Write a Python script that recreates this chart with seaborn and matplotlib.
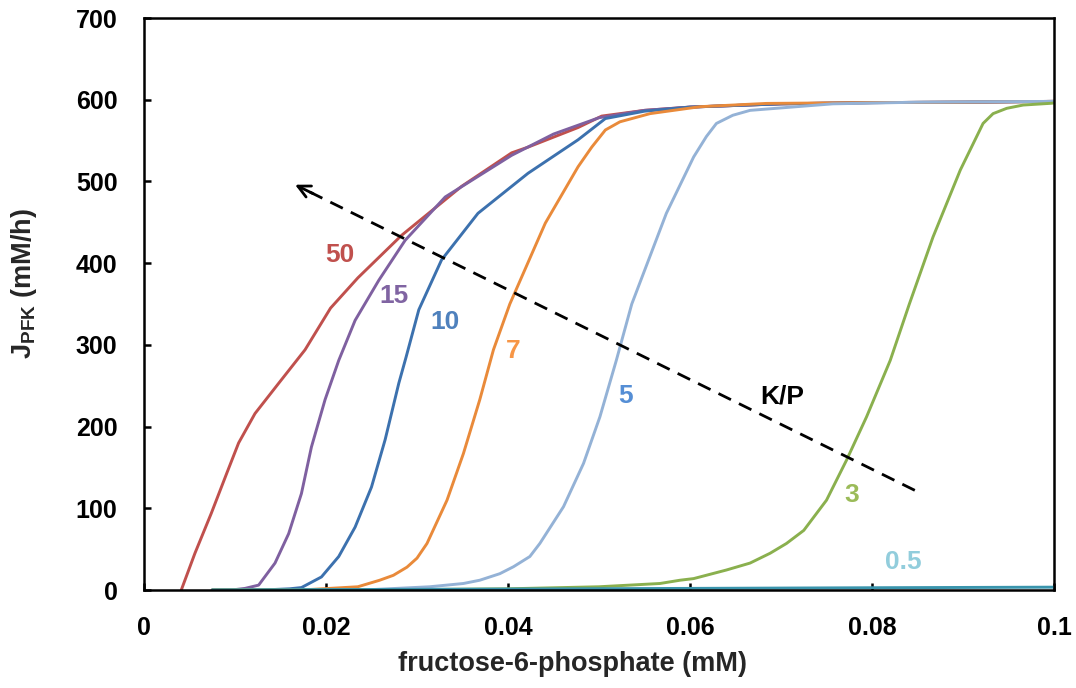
import numpy as np
import pandas as pd
import matplotlib
matplotlib.use("Agg")
import matplotlib.pyplot as plt
import seaborn as sns

# ---- data ----
x_50 = [0.0041, 0.0056, 0.0074, 0.0091, 0.0104, 0.0122, 0.0148, 0.0177, 0.0205, 0.0235,
        0.0283, 0.0349, 0.0404, 0.0422, 0.0477, 0.0503, 0.055, 0.06, 0.07, 0.08, 0.09, 0.1]
y_50 = [0, 45, 94, 143, 180, 216, 253, 294, 345, 382,
        434, 494, 535, 542, 566, 580, 587, 591, 595, 596.5, 597, 598]

x_15 = [0.0075, 0.0100, 0.0111, 0.0126, 0.0144, 0.0159, 0.0173, 0.0184, 0.0199, 0.0214,
        0.0232, 0.0258, 0.0287, 0.0331, 0.0404, 0.045, 0.05, 0.055, 0.06, 0.07, 0.08, 0.09, 0.1]
y_15 = [0, 0.5, 2, 6, 33, 69, 118, 175, 233, 281,
        330, 379, 428, 481, 532, 558, 578, 587, 591, 595, 596.5, 597, 598]

x_10 = [0.0075, 0.014, 0.0160, 0.0173, 0.0195, 0.0214, 0.0232, 0.0250, 0.0265, 0.0280,
        0.0288, 0.0302, 0.0327, 0.0367, 0.0422, 0.0477, 0.0507, 0.055, 0.06, 0.07, 0.08, 0.09, 0.1]
y_10 = [0, 0.5, 1.5, 3, 16, 41, 77, 126, 184, 253,
        285, 343, 404, 461, 510, 551, 577, 586, 591, 595, 596.5, 597, 598]

x_7 = [0.0075, 0.018, 0.0204, 0.0235, 0.0259, 0.0274, 0.0289, 0.0300, 0.0311, 0.0333,
       0.0351, 0.0369, 0.0384, 0.0402, 0.0441, 0.0477, 0.0492, 0.0507, 0.0523, 0.0556,
       0.0611, 0.0684, 0.08, 0.09, 0.1]
y_7 = [0, 0.5, 2, 4, 12, 18, 28, 39, 57, 110,
       167, 233, 294, 350, 449, 518, 542, 563, 573, 583,
       591.5, 595.5, 596.5, 597, 598]

x_5 = [0.0075, 0.025, 0.0314, 0.0351, 0.0369, 0.0391, 0.0406, 0.0424, 0.0435, 0.0461,
       0.0483, 0.0501, 0.0519, 0.0536, 0.0574, 0.0604, 0.0618, 0.0629, 0.0647, 0.0666,
       0.0757, 0.085, 0.1]
y_5 = [0, 0.5, 4, 8, 12, 20, 28.5, 41, 57, 102,
       155, 212, 281, 350, 461, 530, 555, 571, 581, 587,
       595, 597, 598]

x_3 = [0.0075, 0.03, 0.04, 0.05, 0.0567, 0.0589, 0.0604, 0.064, 0.0666, 0.0688,
       0.0706, 0.0725, 0.075, 0.0772, 0.0794, 0.082, 0.0841, 0.0867, 0.0897, 0.0922,
       0.0933, 0.0948, 0.0966, 0.0996, 0.1]
y_3 = [0, 0.5, 1.5, 4, 8, 12, 14, 24.5, 33, 45,
       57, 73, 110, 159, 212, 281, 350, 432, 514, 571,
       583, 589.5, 593.5, 595.6, 596]

x_05 = [0.0075, 0.02, 0.04, 0.06, 0.08, 0.1]
y_05 = [0, 0.5, 1.2, 2, 2.8, 3.5]

series_names = ["0.5", "50", "15", "10", "7", "5", "3"]
line_colors = ["#3A95AD", "#C0504D", "#7F60A0", "#3C71AE", "#E98A3A", "#94B2D6", "#8AB04E"]
label_colors = ["#92CDDC", "#C0504D", "#8064A2", "#4F81BD", "#F79646", "#558ED5", "#9BBB59"]
label_x = [0.0834, 0.0215, 0.0275, 0.0331, 0.0406, 0.0529, 0.0778]
label_y = [34, 410, 360, 328, 292, 237, 116]

arrow_start = (0.0847, 122)
arrow_end = (0.0166, 496)

xticks = [0, 0.02, 0.04, 0.06, 0.08, 0.1]
xtick_labels = ["0", "0.02", "0.04", "0.06", "0.08", "0.1"]
yticks = [0, 100, 200, 300, 400, 500, 600, 700]

# ---- build long-form table ----
xs = {"50": x_50, "15": x_15, "10": x_10, "7": x_7, "5": x_5, "3": x_3, "0.5": x_05}
ys = {"50": y_50, "15": y_15, "10": y_10, "7": y_7, "5": y_5, "3": y_3, "0.5": y_05}
rows = []
for name in series_names:
    for xv, yv in zip(xs[name], ys[name]):
        rows.append({"F6P": xv, "J": yv, "KP": name})
df = pd.DataFrame(rows)

sns.set_theme(style="white")
plt.rcParams["font.family"] = ["Liberation Sans", "DejaVu Sans"]
plt.rcParams["font.weight"] = "bold"
plt.rcParams["mathtext.fontset"] = "custom"
plt.rcParams["mathtext.rm"] = "Liberation Sans:bold"
plt.rcParams["mathtext.bf"] = "Liberation Sans:bold"

fig = plt.figure(figsize=(10.76, 6.88), dpi=100)
ax = fig.add_axes([0.1338, 0.1424, 0.9796 - 0.1338, 0.9738 - 0.1424])

order_draw = ["50", "15", "10", "7", "5", "3", "0.5"]
palette = dict(zip(series_names, line_colors))
for name in order_draw:
    sub = df[df["KP"] == name]
    sns.lineplot(data=sub, x="F6P", y="J", color=palette[name], lw=2.1,
                 sort=False, estimator=None, ax=ax, legend=False)

# dashed arrow
ax.plot([arrow_start[0], arrow_end[0] + 0.0006], [arrow_start[1], arrow_end[1] - 3.3],
        color="black", lw=2.0, ls=(0, (5, 3.2)))
ax.annotate("", xy=arrow_end, xytext=(arrow_end[0] + 0.002, arrow_end[1] - 11),
            arrowprops=dict(arrowstyle="->", color="black", lw=2.0,
                            mutation_scale=22, shrinkA=0, shrinkB=0))

for name, lx, ly, c in zip(series_names, label_x, label_y, label_colors):
    ax.text(lx, ly, name, color=c, fontsize=19, fontweight="bold",
            ha="center", va="center")
ax.text(0.0701, 237, "K/P", color="black", fontsize=19, fontweight="bold",
        ha="center", va="center")

ax.set_xlim(0, 0.1)
ax.set_ylim(0, 700)
ax.set_xticks(xticks)
ax.set_xticklabels(xtick_labels)
ax.set_yticks(yticks)
ax.tick_params(axis="both", direction="in", length=5, width=1.8, labelsize=18,
               colors="black", bottom=True, left=True, top=False, right=False)
ax.tick_params(axis="y", pad=19)
ax.tick_params(axis="x", pad=19)
for lab in ax.get_xticklabels() + ax.get_yticklabels():
    lab.set_fontweight("bold")
for sp in ax.spines.values():
    sp.set_visible(True)
    sp.set_color("black")
    sp.set_linewidth(1.8)

ax.set_xlabel("fructose-6-phosphate (mM)", fontsize=19.5, fontweight="bold")
ax.set_ylabel(r"J$_{\mathrm{PFK}}$ (mM/h)", fontsize=19.5, fontweight="bold")
ax.xaxis.set_label_coords((572 - 144) / 910, -(651 - 590) / 572)
ax.yaxis.set_label_coords(-(144 - 39) / 910, (590 - 283) / 572)

fig.savefig("out.png", dpi=100)
